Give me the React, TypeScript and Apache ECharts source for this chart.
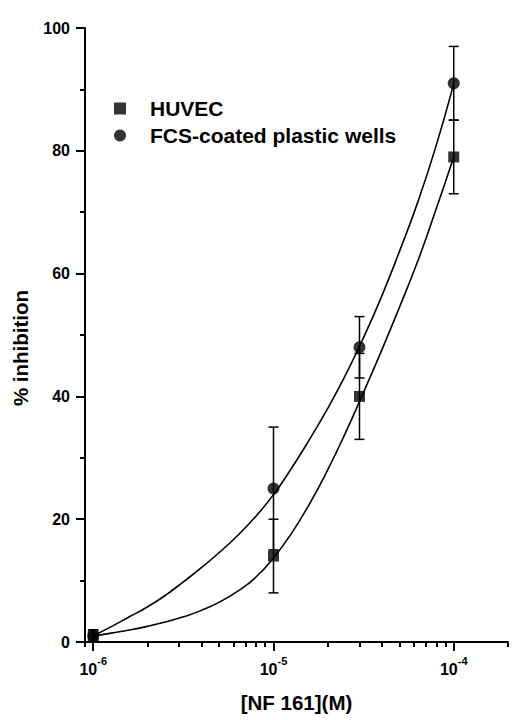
import React, { useEffect, useRef } from "react";
import * as echarts from "echarts";

// Concentrations (M) of measured points
const conc = [1e-6, 1e-5, 3e-5, 1e-4];
// HUVEC % inhibition and error (±)
const huvecValues = [1, 14, 40, 79];
const huvecErr = [1, 6, 7, 6];
// FCS-coated plastic wells % inhibition and error (±)
const fcsValues = [1, 25, 48, 91];
const fcsErr = [1, 10, 5, 6];

// Fitted curves (x as log10 of concentration)
const fitLogConc = [
  -6.0, -5.9, -5.8, -5.7, -5.6, -5.5, -5.4, -5.3, -5.2, -5.1, -5.0,
  -4.9, -4.8, -4.7, -4.6, -4.5, -4.4, -4.3, -4.2, -4.1, -4.0,
];
const huvecFit = [
  1.0, 1.45, 1.95, 2.55, 3.25, 4.1, 5.15, 6.5, 8.25, 10.5, 13.7,
  17.7, 22.5, 28.0, 34.1, 40.7, 47.5, 54.6, 62.0, 70.3, 79.0,
];
const fcsFit = [
  1.0, 2.5, 4.1, 5.7, 7.6, 9.8, 12.1, 14.6, 17.3, 20.4, 24.0,
  28.3, 33.0, 38.0, 43.5, 49.6, 56.3, 63.7, 71.6, 80.6, 90.9,
];

// Axis ticks
const xMin = 0.9e-6;
const xMax = 2e-4;
const xMajorTicks = [1e-6, 1e-5, 1e-4];
const xMinorTicks = [
  0.9e-6, 2e-6, 3e-6, 4e-6, 5e-6, 6e-6, 7e-6, 8e-6, 9e-6,
  2e-5, 3e-5, 4e-5, 5e-5, 6e-5, 7e-5, 8e-5, 9e-5, 2e-4,
];
const yTicks = [0, 20, 40, 60, 80, 100];

const seriesNames = ["HUVEC", "FCS-coated plastic wells"];
const xTitle = "[NF 161](M)";
const yTitle = "% inhibition";

const FONT = "Liberation Sans, Arial, sans-serif";
const lg = (v: number) => Math.log10(v);

export default function App() {
  const ref = useRef<HTMLDivElement>(null);
  useEffect(() => {
    if (!ref.current) return;
    const chart = echarts.init(ref.current, undefined, { renderer: "svg" });

    const errRender = (params: any, api: any) => {
      const x = api.value(0);
      const lo = api.value(1);
      const hi = api.value(2);
      const pLo = api.coord([x, lo]);
      const pHi = api.coord([x, hi]);
      const w = 5;
      const style = { stroke: "#000", lineWidth: 1.5 };
      return {
        type: "group",
        children: [
          { type: "line", shape: { x1: pLo[0], y1: pLo[1], x2: pHi[0], y2: pHi[1] }, style },
          { type: "line", shape: { x1: pLo[0] - w, y1: pLo[1], x2: pLo[0] + w, y2: pLo[1] }, style },
          { type: "line", shape: { x1: pHi[0] - w, y1: pHi[1], x2: pHi[0] + w, y2: pHi[1] }, style },
        ],
      };
    };

    const axisLine = { show: true, lineStyle: { color: "#000", width: 2 } };
    const labelStyle = { color: "#000", fontFamily: FONT, fontWeight: "bold" as const, fontSize: 16 };

    chart.setOption({
      animation: false,
      backgroundColor: "#fff",
      grid: { left: 85, right: 13, top: 28, bottom: 78, containLabel: false },
      legend: {
        orient: "vertical",
        left: 109,
        top: 93,
        itemWidth: 12,
        itemHeight: 12,
        itemGap: 6,
        data: [
          { name: seriesNames[0], icon: "rect" },
          { name: seriesNames[1], icon: "circle" },
        ],
        textStyle: {
          color: "#000",
          fontFamily: FONT,
          fontWeight: "bold",
          fontSize: 21,
          lineHeight: 21,
          padding: [0, 0, 0, 19],
        },
      },
      xAxis: [
        {
          type: "value",
          min: lg(xMin),
          max: lg(xMax),
          position: "bottom",
          axisLine,
          splitLine: { show: false },
          axisTick: {
            show: true,
            length: 9,
            customValues: xMajorTicks.map(lg),
            lineStyle: { color: "#000", width: 2 },
          },
          axisLabel: {
            show: true,
            margin: 13,
            customValues: xMajorTicks.map(lg),
            formatter: (v: number) => "{b|10}{s|" + Math.round(v) + "}",
            rich: {
              b: { ...labelStyle, fontSize: 16, lineHeight: 22, verticalAlign: "bottom" },
              s: { ...labelStyle, fontSize: 11, lineHeight: 22, verticalAlign: "top" },
            },
          },
          name: xTitle,
          nameLocation: "middle",
          nameGap: 50,
          nameTextStyle: { color: "#000", fontFamily: FONT, fontWeight: "bold", fontSize: 20.5 },
        },
        {
          type: "value",
          min: lg(xMin),
          max: lg(xMax),
          position: "bottom",
          axisLine: { show: false },
          splitLine: { show: false },
          axisTick: {
            show: true,
            length: 5,
            customValues: xMinorTicks.map(lg),
            lineStyle: { color: "#000", width: 2 },
          },
          axisLabel: { show: false },
        },
      ],
      yAxis: {
        type: "value",
        min: yTicks[0],
        max: yTicks[yTicks.length - 1],
        interval: 20,
        axisLine,
        splitLine: { show: false },
        axisTick: { show: true, length: 9, lineStyle: { color: "#000", width: 2 } },
        minorTick: { show: true, splitNumber: 2, length: 5, lineStyle: { color: "#000", width: 2 } },
        minorSplitLine: { show: false },
        axisLabel: { ...labelStyle, margin: 15 },
      },
      graphic: [
        {
          type: "text",
          x: 20,
          y: 348,
          rotation: Math.PI / 2,
          style: {
            text: yTitle,
            fill: "#000",
            font: "bold 20.5px " + FONT,
            align: "center",
            verticalAlign: "middle",
            textAlign: "center",
            textVerticalAlign: "middle",
          },
        },
      ],
      series: [
        {
          name: "HUVEC fit",
          type: "line",
          data: fitLogConc.map((x, i) => [x, huvecFit[i]]),
          smooth: 0.5,
          showSymbol: false,
          lineStyle: { color: "#000", width: 1.6 },
          z: 2,
          silent: true,
        },
        {
          name: "FCS fit",
          type: "line",
          data: fitLogConc.map((x, i) => [x, fcsFit[i]]),
          smooth: 0.5,
          showSymbol: false,
          lineStyle: { color: "#000", width: 1.6 },
          z: 2,
          silent: true,
        },
        {
          name: "HUVEC err",
          type: "custom",
          renderItem: errRender,
          data: conc.map((c, i) => [lg(c), huvecValues[i] - huvecErr[i], huvecValues[i] + huvecErr[i]]),
          z: 3,
          silent: true,
        },
        {
          name: "FCS err",
          type: "custom",
          renderItem: errRender,
          data: conc.map((c, i) => [lg(c), fcsValues[i] - fcsErr[i], fcsValues[i] + fcsErr[i]]),
          z: 3,
          silent: true,
        },
        {
          name: seriesNames[1],
          type: "scatter",
          symbol: "circle",
          symbolSize: 12,
          itemStyle: { color: "#000" },
          data: conc.map((c, i) => [lg(c), fcsValues[i]]),
          z: 4,
        },
        {
          name: seriesNames[0],
          type: "scatter",
          symbol: "rect",
          symbolSize: 11,
          itemStyle: { color: "#000" },
          data: conc.map((c, i) => [lg(c), huvecValues[i]]),
          z: 5,
        },
      ],
    });
    return () => chart.dispose();
  }, []);
  return (
    <div
      ref={ref}
      style={{ position: "fixed", left: 0, top: 0, width: 521, height: 720, background: "#fff" }}
    />
  );
}
